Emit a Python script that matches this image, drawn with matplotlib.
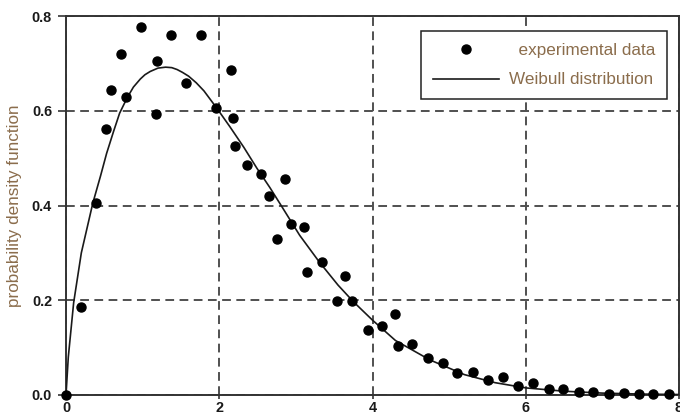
import matplotlib
matplotlib.use("Agg")
import matplotlib.pyplot as plt


# Measured density values
exp_x = [0.0, 0.196, 0.388, 0.522, 0.587, 0.714, 0.783, 0.979, 1.175, 1.184,
         1.371, 1.567, 1.762, 1.958, 2.154, 2.176, 2.21, 2.359, 2.55, 2.646,
         2.75, 2.859, 2.937, 3.107, 3.142, 3.342, 3.534, 3.642, 3.734, 3.938,
         4.125, 4.30, 4.33, 4.517, 4.72, 4.917, 5.108, 5.31, 5.513, 5.70,
         5.905, 6.09, 6.30, 6.49, 6.69, 6.88, 7.085, 7.276, 7.477, 7.667, 7.868]
exp_y = [0.0, 0.186, 0.405, 0.561, 0.644, 0.720, 0.628, 0.777, 0.593, 0.706,
         0.760, 0.659, 0.760, 0.606, 0.685, 0.585, 0.526, 0.486, 0.467, 0.420,
         0.329, 0.456, 0.362, 0.355, 0.260, 0.281, 0.199, 0.251, 0.198, 0.138,
         0.145, 0.170, 0.104, 0.107, 0.079, 0.067, 0.046, 0.048, 0.031, 0.037,
         0.018, 0.025, 0.013, 0.012, 0.007, 0.007, 0.003, 0.004, 0.003, 0.002, 0.002]

# Fitted Weibull curve
fit_x = [0, 0.03, 0.1, 0.2, 0.35, 0.45, 0.53, 0.62, 0.7, 0.8, 0.88, 0.97,
         1.03, 1.1, 1.2, 1.3, 1.38, 1.45, 1.52, 1.6, 1.7, 1.8, 1.97, 2.14,
         2.32, 2.49, 2.66, 2.8, 3.05, 3.3, 3.55, 3.75, 4.0, 4.3, 4.75, 5.2,
         5.6, 6.0, 6.5, 7.0, 7.5, 8.0]
fit_y = [0, 0.08, 0.195, 0.30, 0.405, 0.462, 0.51, 0.556, 0.595, 0.628, 0.650,
         0.667, 0.676, 0.683, 0.690, 0.692, 0.691, 0.687, 0.681, 0.673, 0.659,
         0.642, 0.605, 0.566, 0.523, 0.479, 0.438, 0.402, 0.337, 0.282, 0.232,
         0.197, 0.158, 0.115, 0.074, 0.043, 0.026, 0.015, 0.008, 0.004, 0.002,
         0.001]

x_ticks = [0, 2, 4, 6, 8]
y_ticks = [0.0, 0.2, 0.4, 0.6, 0.8]

BROWN = "#8b6d4c"
plt.rcParams["font.family"] = ["Liberation Sans", "DejaVu Sans"]

fig = plt.figure(figsize=(6.8, 4.17), dpi=100)
ax = fig.add_axes([66 / 680, 22 / 417, 613 / 680, 379 / 417])

ax.plot(exp_x, exp_y, "o", color="black", markersize=6.5, linestyle="none",
        label="  experimental data", zorder=4, clip_on=False)
ax.plot(fit_x, fit_y, "-", color="#1a1a1a", linewidth=1.2,
        label="Weibull distribution", zorder=3)

ax.set_xlim(0, 8)
ax.set_ylim(0, 0.8)
ax.set_xticks(x_ticks)
ax.set_yticks(y_ticks)
ax.set_xticklabels([str(v) for v in x_ticks])
ax.set_yticklabels(["%.1f" % v for v in y_ticks])

for lbl in ax.get_xticklabels() + ax.get_yticklabels():
    lbl.set_fontweight("bold")
    lbl.set_fontsize(10.4)
    lbl.set_color("#1a1a1a")

ax.tick_params(axis="y", direction="out", length=6, width=1.2, pad=4,
               color="#333333")
ax.tick_params(axis="x", direction="out", length=3, width=1.2, pad=1.5,
               color="#333333")

ax.grid(True, color="#505050", linewidth=1.4, linestyle=(0, (4.5, 2.8)))
ax.set_axisbelow(True)

for side in ["left", "bottom", "top", "right"]:
    ax.spines[side].set_color("#333333")
    ax.spines[side].set_linewidth(1.4)

ax.set_ylabel("probability density function", fontsize=12.3, color=BROWN,
              labelpad=7)

leg = ax.legend(loc="upper right", bbox_to_anchor=(1 - 12 / 613, 1 - 15 / 379),
                borderaxespad=0, fontsize=12.3, frameon=True, fancybox=False,
                edgecolor="#222222", framealpha=1, handlelength=3.9,
                handletextpad=0.55, labelspacing=0.85, borderpad=0.7)
leg.get_frame().set_linewidth(1.1)
for t in leg.get_texts():
    t.set_color(BROWN)

fig.savefig("out.png", dpi=100)
